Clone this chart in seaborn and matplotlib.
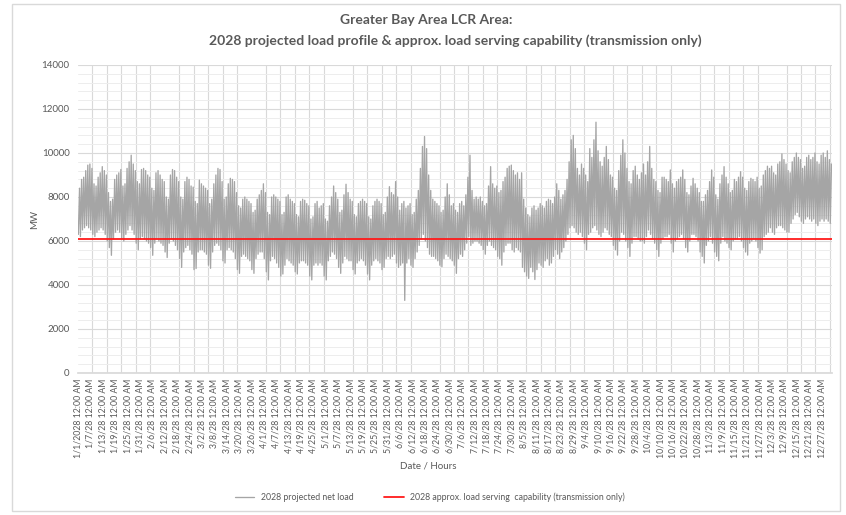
import pandas as pd
import seaborn as sns
import matplotlib.pyplot as plt
from matplotlib.patches import Rectangle

title_line1 = 'Greater Bay Area LCR Area:'
title_line2 = '2028 projected load profile & approx. load serving capability (transmission only)'
load_label = '2028 projected net load'
cap_label = '2028 approx. load serving  capability (transmission only)'

# daily peak of the hourly net load (MW), 1/1 -> 12/31
daily_peak_mw = [
    8400, 8800, 8900, 9200, 9450, 9500, 9300, 8600, 8500, 8900, 9100, 9380, 9200, 9000, 8200, 7800,
    7900, 8800, 9000, 9100, 9250, 8500, 8600, 9300, 9600, 9900, 9500, 9200, 8700, 8600, 9250,
    9300, 9200, 9000, 8900, 8400, 8300, 9100, 9200, 9000, 8800, 8700, 8000, 7900, 9000, 9250,
    9200, 8900, 8700, 8000, 7900, 8700, 8900, 8800, 8500, 8450, 7800, 7700, 8770, 8600,
    8500, 8400, 8300, 7700, 7900, 8600, 9000, 9300, 9250, 8700, 7900, 8000, 8600, 8850, 8800,
    8700, 8200, 7600, 7500, 7900, 8000, 7900, 7800, 7700, 7300, 7400, 7900, 8100, 8300, 8600, 8200,
    7300, 7200, 8000, 8100, 8000, 7900, 7800, 7200, 7300, 8000, 8100, 7900, 7800, 7700, 7200,
    7100, 7800, 7900, 7850, 7700, 7600, 7000, 7100, 7700, 7800, 7500, 7600, 7700, 7000, 6900,
    7600, 8000, 8500, 8200, 7900, 7300, 7400, 8100, 8580, 8200, 7900, 7800, 7200, 7100, 7700,
    7800, 7900, 7800, 7700, 7100, 7000, 7600, 7800, 7900, 7800, 7700, 7200, 7300, 8000, 8470, 8200,
    8100, 8700, 8000, 7400, 7700, 7800, 7500, 7600, 7700, 7200, 7300, 7900, 8300, 9300, 10300,
    10750, 10200, 9000, 8300, 7900, 7800, 7700, 7600, 7300, 7400, 8000, 8600, 8100, 7600, 7700,
    7400, 7300, 7700, 7800, 7600, 8100, 8900, 9900, 8300, 7900, 8000, 7900, 8000, 7800, 7600,
    7700, 8500, 9380, 8600, 8400, 8500, 8200, 8300, 8700, 8900, 9300, 9400, 9450, 9200, 9000, 9100,
    8800, 9100, 7900, 7500, 7200, 7100, 7500, 7600, 7400, 7500, 7700, 7600, 7500, 7800, 7900,
    7850, 7700, 8000, 8600, 8300, 7900, 8100, 8300, 8800, 9600, 10600, 10800, 10200, 9300, 9000, 9500,
    9300, 9000, 8700, 10200, 9800, 10600, 11400, 10100, 9600, 9400, 9800, 10300, 9700, 9000, 8900,
    8400, 8300, 9200, 9900, 10600, 10000, 9300, 8700, 8600, 9200, 9400, 9000, 8800, 9100, 9500,
    9000, 9600, 10300, 9300, 8800, 8700, 8300, 8200, 8900, 8900, 8800, 8700, 9230, 8600, 8400,
    8700, 8800, 8900, 9230, 8800, 8200, 8100, 8500, 8850, 8600, 8400, 8200, 7800, 7800, 8100, 8300,
    8700, 9230, 8900, 8100, 7900, 8600, 9000, 9380, 8900, 8600, 8200, 8300, 8800, 8700, 8900,
    9150, 8900, 8400, 8300, 8700, 8850, 8800, 8700, 8900, 8400, 8500, 9000, 9200, 9400, 9300,
    9400, 9100, 9000, 9500, 9600, 9960, 9700, 9500, 9200, 9100, 9600, 9800, 10000, 9800, 9700,
    9300, 9400, 9800, 9900, 9700, 9800, 10000, 9600, 9500, 9900, 10000, 9800, 10100, 9700, 9500,
]

# daily low of the hourly net load (MW)
daily_low_mw = [
    6300, 6200, 6500, 6600, 6700, 6600, 6500, 6300, 6200, 6400, 6500, 6600, 6500, 6300, 6000, 5700,
    5350, 6100, 6400, 6500, 6400, 6100, 6000, 6300, 6500, 6700, 6500, 6300, 5900, 5600, 6100,
    6200, 6100, 6000, 5900, 5700, 5350, 5900, 6100, 6000, 5900, 5800, 5500, 5250, 5900, 6100,
    6000, 5800, 5600, 5200, 4800, 5500, 5700, 5800, 5600, 5400, 4700, 4750, 5500, 5600,
    5600, 5500, 5400, 4900, 4760, 5500, 5800, 5900, 5800, 5600, 5100, 5000, 5600, 5700, 5600,
    5500, 5200, 4700, 4530, 5300, 5400, 5300, 5200, 5100, 4700, 4530, 5200, 5400, 5500, 5500, 5200,
    4600, 4230, 5100, 5300, 5200, 5000, 4800, 4400, 4500, 4900, 5200, 5100, 5000, 4900, 4600,
    4500, 5000, 5100, 5100, 5000, 4900, 4400, 4230, 4900, 5000, 4900, 5000, 4900, 4400, 4230,
    5100, 5300, 5500, 5400, 5200, 4800, 4530, 5000, 5300, 5200, 5100, 5100, 4700, 4500, 5000,
    5100, 5200, 5100, 4900, 4500, 4230, 4900, 5100, 5200, 5100, 5000, 4700, 4800, 5200, 5300, 5200,
    5300, 5400, 5000, 4800, 4900, 5000, 3300, 5000, 5200, 4900, 4800, 5200, 5500, 5800, 6100,
    6300, 6000, 5700, 5400, 5300, 5300, 5200, 5100, 4900, 4830, 5200, 5400, 5300, 5200, 5100,
    4900, 4530, 5200, 5400, 5300, 5600, 5900, 6200, 5800, 5900, 6000, 6000, 5900, 5800, 5600,
    5400, 5800, 6000, 5800, 5700, 5600, 5300, 5200, 4900, 5500, 5800, 5900, 5900, 5600, 5500, 5700,
    5600, 5500, 4800, 4600, 4400, 4300, 4800, 4600, 4250, 4700, 5000, 4900, 4800, 5100, 5200,
    4900, 5000, 5300, 5600, 5400, 5200, 5500, 5700, 6000, 6300, 6600, 6700, 6600, 6400, 6300, 6400,
    6200, 5900, 5600, 6300, 6400, 6600, 6700, 6500, 6300, 6200, 6400, 6600, 6500, 6300, 6200,
    5800, 5600, 5360, 6000, 6400, 6300, 6000, 5700, 5300, 5900, 6200, 6200, 6100, 6000, 6000,
    5900, 6200, 6500, 6300, 6100, 5900, 5600, 5300, 5900, 6100, 6200, 6200, 6300, 5900, 5500,
    6000, 6100, 6200, 6300, 6100, 5700, 5500, 6000, 6300, 6300, 6200, 6000, 5500, 5300, 5000, 5800,
    6000, 6200, 5900, 5500, 5300, 5100, 5900, 6200, 6000, 5900, 5700, 5600, 6000, 6100, 6100,
    6200, 6000, 5700, 5500, 5360, 5900, 6000, 6100, 6000, 5700, 5450, 5600, 6200, 6300, 6400,
    6600, 6400, 6300, 6600, 6700, 6700, 6600, 6500, 6400, 6400, 6800, 7000, 7200, 7300, 7100,
    6900, 6800, 7000, 7100, 7000, 6900, 7000, 6800, 6700, 6900, 7000, 6900, 7000, 6900, 6800,
]

low_hour = 4      # hour of day the low is placed at
peak_hour = 18    # hour of day the peak is placed at
capability_mw = 6100

tick_dates = [
    '1/1/2028', '1/7/28', '1/13/28', '1/19/28', '1/25/28', '1/31/28', '2/6/28', '2/12/28', '2/18/28',
    '2/24/28', '3/2/28', '3/8/28', '3/14/28', '3/20/28', '3/26/28', '4/1/28', '4/7/28', '4/13/28',
    '4/19/28', '4/25/28', '5/1/28', '5/7/28', '5/13/28', '5/19/28', '5/25/28', '5/31/28', '6/6/28',
    '6/12/28', '6/18/28', '6/24/28', '6/30/28', '7/6/28', '7/12/28', '7/18/28', '7/24/28', '7/30/28',
    '8/5/28', '8/11/28', '8/17/28', '8/23/28', '8/29/28', '9/4/28', '9/10/28', '9/16/28', '9/22/28',
    '9/28/28', '10/4/28', '10/10/28', '10/16/28', '10/22/28', '10/28/28', '11/3/28', '11/9/28',
    '11/15/28', '11/21/28', '11/27/28', '12/3/28', '12/9/28', '12/15/28', '12/21/28', '12/27/28',
]
tick_labels = [d + ' 12:00 AM' for d in tick_dates]

# build the hourly frame: one low and one peak point per day
rows = []
for day, (lo, hi) in enumerate(zip(daily_low_mw, daily_peak_mw)):
    rows.append((day * 24 + low_hour, lo))
    rows.append((day * 24 + peak_hour, hi))
df = pd.DataFrame(rows, columns=['hour', 'mw'])
n_hours = len(daily_peak_mw) * 24

sns.set_theme(style='white')
plt.rcParams['font.family'] = ['Lato', 'DejaVu Sans']
txt = '#595959'
grid = '#D9D9D9'

fig = plt.figure(figsize=(8.46, 5.15), dpi=100)
ax = fig.add_axes([78 / 846, 1 - 373 / 515, (832 - 78) / 846, (373 - 65) / 515])

sns.lineplot(data=df, x='hour', y='mw', ax=ax, color='#A5A5A5', linewidth=0.95,
             estimator=None, label=load_label, legend=False)
ax.axhline(capability_mw, color='#FF1A1A', linewidth=1.3, label=cap_label)

ax.set_xlim(0, n_hours)
ax.set_ylim(0, 14000)
ax.set_yticks(range(0, 14001, 2000))
ax.set_yticks(range(0, 14001, 400), minor=True)
ax.set_xticks(range(0, 144 * len(tick_labels), 144))
ax.set_xticklabels(tick_labels, rotation=90, fontsize=6.3, color=txt)
ax.set_xticks(range(0, n_hours, 168), minor=True)
ax.tick_params(axis='y', which='both', length=0, labelsize=7, labelcolor=txt, pad=6)
ax.tick_params(axis='x', which='major', length=0, pad=4)
ax.tick_params(axis='x', which='minor', length=4, color=grid, width=0.8)

ax.grid(axis='y', which='major', color=grid, linewidth=0.8)
ax.grid(axis='y', which='minor', color='#EDEDED', linewidth=0.7)
ax.grid(axis='x', which='minor', color=grid, linewidth=0.8)
ax.grid(axis='x', which='major', visible=False)
ax.set_axisbelow(True)
for side in ['top', 'right', 'left']:
    ax.spines[side].set_visible(False)
ax.spines['bottom'].set_color(grid)
ax.set_xlabel('')
ax.set_ylabel('')

fig.text(426 / 846, 1 - 20 / 515, title_line1, ha='center', va='center', fontsize=10,
         fontweight='bold', color=txt)
fig.text(455 / 846, 1 - 41 / 515, title_line2, ha='center', va='center', fontsize=10,
         fontweight='bold', color=txt)
fig.text(35 / 846, 1 - 219 / 515, 'MW', rotation=90, ha='center', va='center', fontsize=7, color=txt)
fig.text(428 / 846, 1 - 466 / 515, 'Date / Hours', ha='center', va='center', fontsize=7, color=txt)

handles, labels = ax.get_legend_handles_labels()
fig.legend(handles, labels, loc='center', bbox_to_anchor=(430 / 846, 1 - 497 / 515), ncol=2,
           frameon=False, fontsize=6.3, labelcolor=txt, handlelength=2.2, columnspacing=3.5)

fig.patches.append(Rectangle((12 / 846, 4 / 515), 828 / 846, 507 / 515, transform=fig.transFigure,
                             fill=False, edgecolor=grid, linewidth=1))

fig.savefig('out.png', dpi=100)
